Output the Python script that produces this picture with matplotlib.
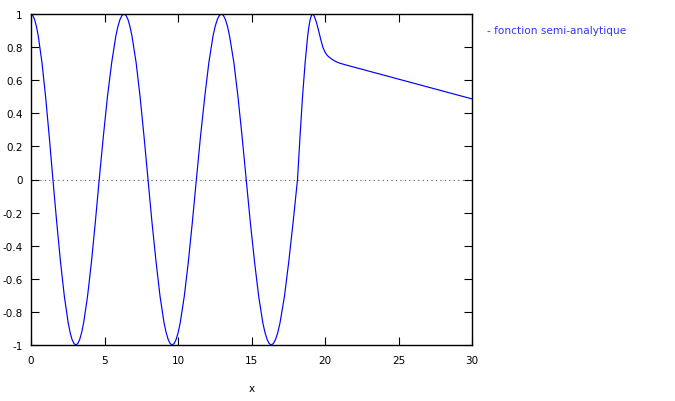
import matplotlib
matplotlib.use("Agg")
import matplotlib.pyplot as plt

# Curve values (x, y)
x_vals = [
    0.0, 0.124, 0.248, 0.372, 0.497, 0.745, 0.993, 1.242, 1.49,
    1.75, 2.01, 2.27, 2.53, 2.66, 2.79, 2.92, 3.05,
    3.1825, 3.315, 3.4475, 3.58, 3.845, 4.11, 4.375, 4.64,
    4.92, 5.20, 5.49, 5.77, 5.91, 6.05, 6.19, 6.33,
    6.466, 6.60, 6.735, 6.87, 7.15, 7.42, 7.69, 7.96,
    8.23, 8.51, 8.78, 9.05, 9.19, 9.33, 9.465, 9.6,
    9.7375, 9.875, 10.0125, 10.15, 10.425, 10.7, 10.975, 11.25,
    11.53, 11.82, 12.10, 12.38, 12.525, 12.67, 12.81, 12.95,
    13.09, 13.23, 13.37, 13.51, 13.80, 14.08, 14.36, 14.64,
    14.92, 15.21, 15.49, 15.77, 15.915, 16.06, 16.20, 16.34,
    16.49, 16.64, 16.79, 16.94, 17.24, 17.53, 17.83, 18.13,
    18.30, 18.47, 18.65, 18.82, 18.905, 18.99, 19.075, 19.16,
    19.25, 19.40, 19.55, 19.70, 19.85, 20.00, 20.15, 20.30, 20.50, 20.75, 21.00, 21.43,
    30.0,
]
y_vals = [
    1.0, 0.991, 0.966, 0.924, 0.866, 0.707, 0.5, 0.259, 0.0,
    -0.259, -0.5, -0.707, -0.866, -0.924, -0.966, -0.991, -1.0,
    -0.991, -0.966, -0.924, -0.866, -0.707, -0.5, -0.259, 0.0,
    0.259, 0.5, 0.707, 0.866, 0.924, 0.966, 0.991, 1.0,
    0.991, 0.966, 0.924, 0.866, 0.707, 0.5, 0.259, 0.0,
    -0.259, -0.5, -0.707, -0.866, -0.924, -0.966, -0.991, -1.0,
    -0.991, -0.966, -0.924, -0.866, -0.707, -0.5, -0.259, 0.0,
    0.259, 0.5, 0.707, 0.866, 0.924, 0.966, 0.991, 1.0,
    0.991, 0.966, 0.924, 0.866, 0.707, 0.5, 0.259, 0.0,
    -0.259, -0.5, -0.707, -0.866, -0.924, -0.966, -0.991, -1.0,
    -0.991, -0.966, -0.924, -0.866, -0.707, -0.5, -0.259, 0.0,
    0.259, 0.5, 0.707, 0.866, 0.924, 0.966, 0.991, 1.0,
    0.99, 0.955, 0.905, 0.85, 0.80, 0.77, 0.75, 0.738, 0.725, 0.712, 0.703, 0.692,
    0.487,
]
x_ticks = [0, 5, 10, 15, 20, 25, 30]
y_ticks = [-1, -0.8, -0.6, -0.4, -0.2, 0, 0.2, 0.4, 0.6, 0.8, 1]
y_tick_labels = ["-1", "-0.8", "-0.6", "-0.4", "-0.2", "0", "0.2", "0.4", "0.6", "0.8", "1"]
legend_label = "- fonction semi-analytique"
x_label = "x"

plt.rcParams['font.family'] = ['DejaVu Sans']

fig = plt.figure(figsize=(6.75, 4.02), dpi=100)
W, H = 675, 402
left, right, top, bottom = 31, 472, 15, 346
ax = fig.add_axes([left / W, 1 - bottom / H, (right - left) / W, (bottom - top) / H])

ax.axhline(0, color='#555555', linestyle=(0, (1, 3)), linewidth=0.8, zorder=1)
ax.plot(x_vals, y_vals, color='#0000ff', linewidth=0.85, zorder=2)

ax.set_xlim(0, 30)
ax.set_ylim(-1, 1)
ax.set_xticks(x_ticks)
ax.set_xticklabels([str(t) for t in x_ticks])
ax.set_yticks(y_ticks)
ax.set_yticklabels(y_tick_labels)
ax.tick_params(direction='in', length=6, width=0.8, top=True, right=True,
               labelsize=7.5, colors='black')
ax.tick_params(axis='x', pad=7)
ax.tick_params(axis='y', pad=6)
for s in ax.spines.values():
    s.set_linewidth(1.0)
    s.set_color('black')

ax.set_xlabel(x_label, fontsize=7.5, labelpad=13)

fig.text(487 / W, 1 - 31 / H, legend_label, color='#3535ff', fontsize=7.6,
         ha='left', va='center')

fig.savefig("out.png", dpi=100)
